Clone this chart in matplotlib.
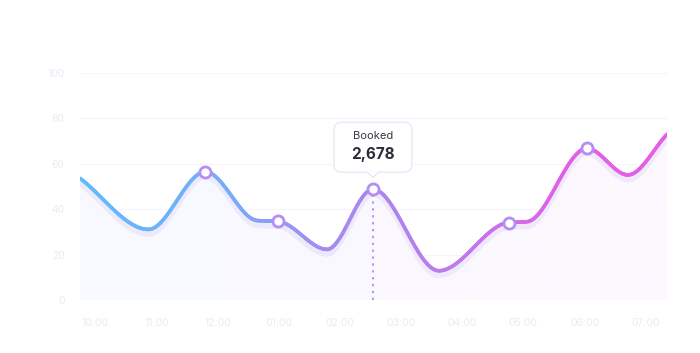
import numpy as np
import matplotlib
matplotlib.use('AGG')
from matplotlib import pyplot as plt
from matplotlib.collections import LineCollection
from matplotlib.colors import LinearSegmentedColormap
from matplotlib.patches import FancyBboxPatch, Polygon
from matplotlib.transforms import Affine2D, IdentityTransform

# hour labels along the bottom
hours = ['10:00', '11:00', '12:00', '01:00', '02:00',
         '03:00', '04:00', '05:00', '06:00', '07:00']
y_ticks = [0, 20, 40, 60, 80, 100]

# curve points (x in hour-slot units)
pt_x = [-0.25, 0.87, 1.80, 2.65, 2.99, 3.79, 4.54, 5.62, 6.76, 7.06, 8.04, 8.71, 9.35]
pt_y = [53.6, 31.1, 56.5, 35.0, 34.6, 22.3, 48.8, 12.9, 34.1, 34.5, 66.8, 55.1, 73.0]
marked = [2, 4, 6, 8, 10]
hover = 6
hover_label = 'Booked'
hover_value = '2,678'


def monotone(x, y, n=600):
    # monotone cubic (Fritsch-Carlson), like d3's curveMonotoneX
    x = np.asarray(x, float)
    y = np.asarray(y, float)
    h = np.diff(x)
    d = np.diff(y) / h
    m = np.zeros_like(y)
    m[0], m[-1] = d[0], d[-1]
    for i in range(1, len(x) - 1):
        if d[i - 1] * d[i] <= 0:
            m[i] = 0
        else:
            w1 = 2 * h[i] + h[i - 1]
            w2 = h[i] + 2 * h[i - 1]
            m[i] = (w1 + w2) / (w1 / d[i - 1] + w2 / d[i])
    xs = np.linspace(x[0], x[-1], n)
    k = np.clip(np.searchsorted(x, xs) - 1, 0, len(x) - 2)
    t = (xs - x[k]) / h[k]
    h00 = 2 * t**3 - 3 * t**2 + 1
    h10 = t**3 - 2 * t**2 + t
    h01 = -2 * t**3 + 3 * t**2
    h11 = t**3 - t**2
    ys = h00 * y[k] + h10 * h[k] * m[k] + h01 * y[k + 1] + h11 * h[k] * m[k + 1]
    return xs, ys


plt.rcParams['font.family'] = ['Inter', 'DejaVu Sans']

fig = plt.figure(figsize=(7, 3.53), dpi=100)
ax = fig.add_axes([80 / 700, 53 / 353, 587 / 700, 227 / 353])
ax.set_xlim(pt_x[0], pt_x[-1])
ax.set_ylim(0, 100)

for s in ax.spines.values():
    s.set_visible(False)
ax.set_yticks(y_ticks)
ax.set_xticks(range(len(hours)))
ax.set_xticklabels(hours)
ax.tick_params(length=0, labelsize=7.5, labelcolor='#ebeaf5')
ax.tick_params(axis='x', pad=13)
ax.tick_params(axis='y', pad=11)
for v in y_ticks:
    ax.axhline(v, color='#f5f4fa', lw=0.8, zorder=0)

xs, ys = monotone(pt_x, pt_y)

# faint gradient fill under the curve
fill = ax.fill_between(xs, ys, 0, facecolor='none', edgecolor='none')
fill_cmap = LinearSegmentedColormap.from_list('fill', ['#f8f9ff', '#faf8ff', '#fdf8fe'])
img = ax.imshow(np.linspace(0, 1, 256)[None, :], cmap=fill_cmap, aspect='auto',
                extent=(pt_x[0], pt_x[-1], 0, 100), zorder=1)
img.set_clip_path(fill.get_paths()[0], transform=ax.transData)

# soft shadow beneath the line
shadow_tr = ax.transData + Affine2D().translate(0, -4)
ax.plot(xs, ys, color='#d4c8f6', lw=5, alpha=0.3, transform=shadow_tr,
        solid_capstyle='round', zorder=2)

# gradient line
line_cmap = LinearSegmentedColormap.from_list(
    'line', [(0, '#5fbcf9'), (0.25, '#78acf8'), (0.4, '#a48df0'), (0.5, '#a987ee'),
             (0.65, '#c07aec'), (0.82, '#e260e8'), (1, '#e55ee6')])
pts = np.column_stack([xs, ys]).reshape(-1, 1, 2)
segs = np.concatenate([pts[:-1], pts[1:]], axis=1)
lc = LineCollection(segs, cmap=line_cmap, linewidths=2.6, capstyle='round', zorder=3)
lc.set_array((xs[:-1] - xs[0]) / (xs[-1] - xs[0]))
lc.set_clim(0, 1)
ax.add_collection(lc)

# hover guide
hx, hy = pt_x[hover], pt_y[hover]
ax.plot([hx, hx], [0, hy], color='#9a7cf2', lw=1.1, ls=(0, (1.5, 3)), zorder=2)

# markers
ax.plot([pt_x[i] for i in marked], [pt_y[i] for i in marked], 'o', ms=8,
        mfc='white', mec='#b48ef2', mew=2, zorder=4)

# tooltip in pixel space above the hover point
fig.canvas.draw()
px, py = ax.transData.transform((hx, hy))
bw, bh = 78, 50
bx, by = px - bw / 2, py + 17
box = FancyBboxPatch((bx, by), bw, bh, boxstyle='round,pad=0,rounding_size=8',
                     fc='white', ec='#ebe7f8', lw=1, transform=IdentityTransform(),
                     zorder=10)
fig.patches.append(box)
tri = Polygon([(px - 6, by + 0.8), (px + 6, by + 0.8), (px, by - 5)], closed=True,
              fc='white', ec='none', transform=IdentityTransform(), zorder=11)
fig.patches.append(tri)
fig.lines.append(plt.Line2D([px - 6, px, px + 6], [by, by - 5, by], color='#ebe7f8',
                            lw=1, transform=IdentityTransform(), zorder=12))
fig.text(px / 700, (by + 36) / 353, hover_label, ha='center', va='center',
         fontsize=8, color='#3a3a48', zorder=13)
fig.text(px / 700, (by + 18) / 353, hover_value, ha='center', va='center',
         fontsize=11, fontweight='bold', color='#2c2c3a', zorder=13)

fig.savefig('out.png', dpi=100)
